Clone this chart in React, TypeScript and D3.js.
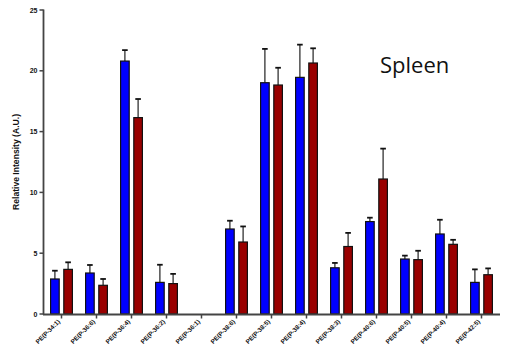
import React from "react";
import * as d3 from "d3";

const categories = [
  "PE(P-34:1)", "PE(P-36:6)", "PE(P-36:4)", "PE(P-36:2)", "PE(P-36:1)", "PE(P-38:6)",
  "PE(P-38:5)", "PE(P-38:4)", "PE(P-38:3)", "PE(P-40:6)", "PE(P-40:5)", "PE(P-40:4)", "PE(P-42:5)",
];
const blueValues = [2.88, 3.37, 20.8, 2.6, 0, 6.99, 19.02, 19.46, 3.8, 7.6, 4.52, 6.58, 2.6];
const blueErrors = [0.68, 0.66, 0.9, 1.45, 0, 0.68, 2.78, 2.69, 0.4, 0.32, 0.28, 1.17, 1.07];
const redValues = [3.67, 2.36, 16.15, 2.5, 0, 5.92, 18.83, 20.64, 5.55, 11.1, 4.47, 5.73, 3.23];
const redErrors = [0.58, 0.52, 1.53, 0.8, 0, 1.28, 1.42, 1.21, 1.12, 2.5, 0.73, 0.37, 0.52];
const yTicks = [0, 5, 10, 15, 20, 25];

const W = 508, H = 358;
const axisColor = "#444";

export default function App() {
  const x = d3.scaleBand<string>().domain(categories).range([44, 499]).padding(0);
  const y = d3.scaleLinear().domain([0, 25]).range([314, 10]);
  const barW = 8.6;
  const gapHalf = 2.3;
  const series = [
    { vals: blueValues, errs: blueErrors, fill: "#0000ff", off: -gapHalf - barW },
    { vals: redValues, errs: redErrors, fill: "#990000", off: gapHalf },
  ];
  return (
    <svg width={W} height={H} style={{ position: "absolute", left: 0, top: 0 }} fontFamily="Liberation Sans, Arial, sans-serif">
      <rect width={W} height={H} fill="#fff" />
      {series.map((s, si) =>
        categories.map((c, i) => {
          const cx = (x(c) as number) + x.bandwidth() / 2;
          const bx = cx + s.off;
          const v = s.vals[i];
          if (v <= 0) return null;
          const top = y(v);
          const et = y(v + s.errs[i]);
          const mid = bx + barW / 2;
          return (
            <g key={`${si}-${i}`}>
              <line x1={mid} x2={mid} y1={top} y2={et} stroke="#222" strokeWidth={1.2} />
              <line x1={mid - 2.8} x2={mid + 2.8} y1={et} y2={et} stroke="#111" strokeWidth={1.8} />
              <rect x={bx} y={top} width={barW} height={y(0) - top} fill={s.fill} stroke="#111" strokeWidth={1.2} />
            </g>
          );
        })
      )}
      {/* y axis */}
      <line x1={43.5} x2={43.5} y1={9.5} y2={314.5} stroke={axisColor} strokeWidth={1.8} />
      {yTicks.map((t) => (
        <g key={t}>
          <line x1={39.5} x2={43.5} y1={y(t)} y2={y(t)} stroke={axisColor} strokeWidth={1.5} />
          <text x={37.5} y={y(t) + 2.5} textAnchor="end" fontSize={7} fontWeight="bold" fill="#111">{t}</text>
        </g>
      ))}
      {/* x axis */}
      <line x1={43} x2={500} y1={314.5} y2={314.5} stroke={axisColor} strokeWidth={1.8} />
      {categories.map((c) => {
        const cx = (x(c) as number) + x.bandwidth() / 2;
        return (
          <g key={c}>
            <line x1={cx} x2={cx} y1={314.5} y2={318.5} stroke={axisColor} strokeWidth={1.5} />
            <text
              transform={`translate(${cx - 1},${322}) rotate(-45)`}
              textAnchor="end"
              fontSize={6.3}
              fontWeight="bold"
              fill="#111"
            >{c}</text>
          </g>
        );
      })}
      <text
        transform={`translate(19,162) rotate(-90)`}
        textAnchor="middle"
        fontSize={8.6}
        fontWeight="bold"
        fill="#111"
      >Relative Intensity (A.U.)</text>
      <text x={380} y={72.5} fontSize={22} fontFamily="Open Sans, sans-serif" fill="#111">Spleen</text>
    </svg>
  );
}
